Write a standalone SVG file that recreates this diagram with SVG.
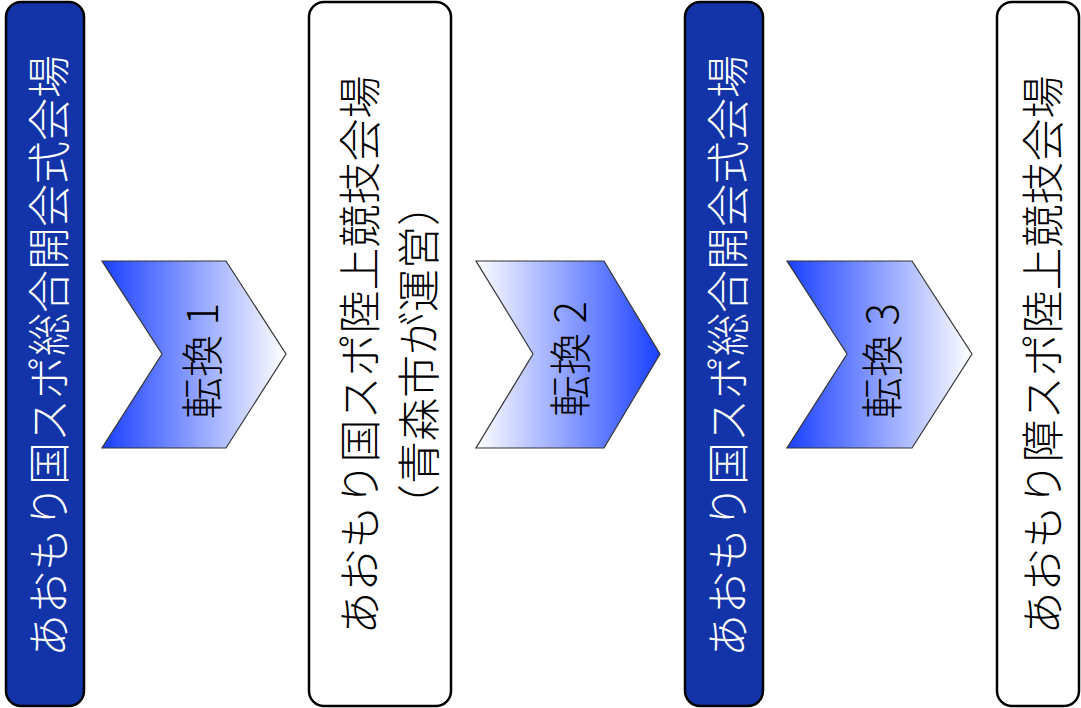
<svg xmlns="http://www.w3.org/2000/svg" width="1081" height="708" viewBox="0 0 1081 708">
<defs>
<linearGradient id="gBW" x1="0" y1="0" x2="1" y2="0">
<stop offset="0" stop-color="#1a40ff"/>
<stop offset="1" stop-color="#ffffff"/>
</linearGradient>
<linearGradient id="gWB" x1="0" y1="0" x2="1" y2="0">
<stop offset="0" stop-color="#ffffff"/>
<stop offset="1" stop-color="#1a40ff"/>
</linearGradient>
<style>
.dark{fill:#1234a8;stroke:#000;stroke-width:2.5}
.light{fill:#fff;stroke:#000;stroke-width:2.5}
.chev{stroke:#333;stroke-width:1.2}
text{font-family:"Noto Sans CJK JP","Noto Sans CJK SC",sans-serif;font-weight:300;text-anchor:middle;dominant-baseline:central}
.big{font-size:43px}
.w{fill:#fff}
.k{fill:#000}
.mid{font-size:42px}
</style>
</defs>
<g id="node1">
<rect class="dark" x="6" y="2" width="78" height="704" rx="15"/>
<text class="big w" transform="translate(46,356) rotate(-90)">あおもり国スポ総合開会式会場</text>
</g>
<g id="node2">
<rect class="light" x="309" y="2" width="142" height="704" rx="15"/>
<text class="big k" transform="translate(357,355) rotate(-90)">あおもり国スポ陸上競技会場</text>
<text class="big k" transform="translate(416,355) rotate(-90)">（青森市が運営）</text>
</g>
<g id="node3">
<rect class="dark" x="685" y="2" width="78" height="704" rx="15"/>
<text class="big w" transform="translate(725,356) rotate(-90)">あおもり国スポ総合開会式会場</text>
</g>
<g id="node4">
<rect class="light" x="997" y="2" width="82" height="704" rx="15"/>
<text class="big k" transform="translate(1040,355) rotate(-90)">あおもり障スポ陸上競技会場</text>
</g>
<g id="connectors">
<g id="arrow1">
<polygon class="chev" fill="url(#gBW)" points="102,261 226,261 286,354 226,448 102,448 162,354"/>
<text class="mid k" transform="translate(199,361) rotate(-90)">転換 1</text>
</g>
<g id="arrow2">
<polygon class="chev" fill="url(#gWB)" points="476,261 604,261 660,354 604,448 476,448 533,354"/>
<text class="mid k" transform="translate(567,359) rotate(-90)">転換 2</text>
</g>
<g id="arrow3">
<polygon class="chev" fill="url(#gBW)" points="787,261 912,261 972,354 912,448 787,448 847,354"/>
<text class="mid k" transform="translate(879,361) rotate(-90)">転換 3</text>
</g>
</g>
</svg>
